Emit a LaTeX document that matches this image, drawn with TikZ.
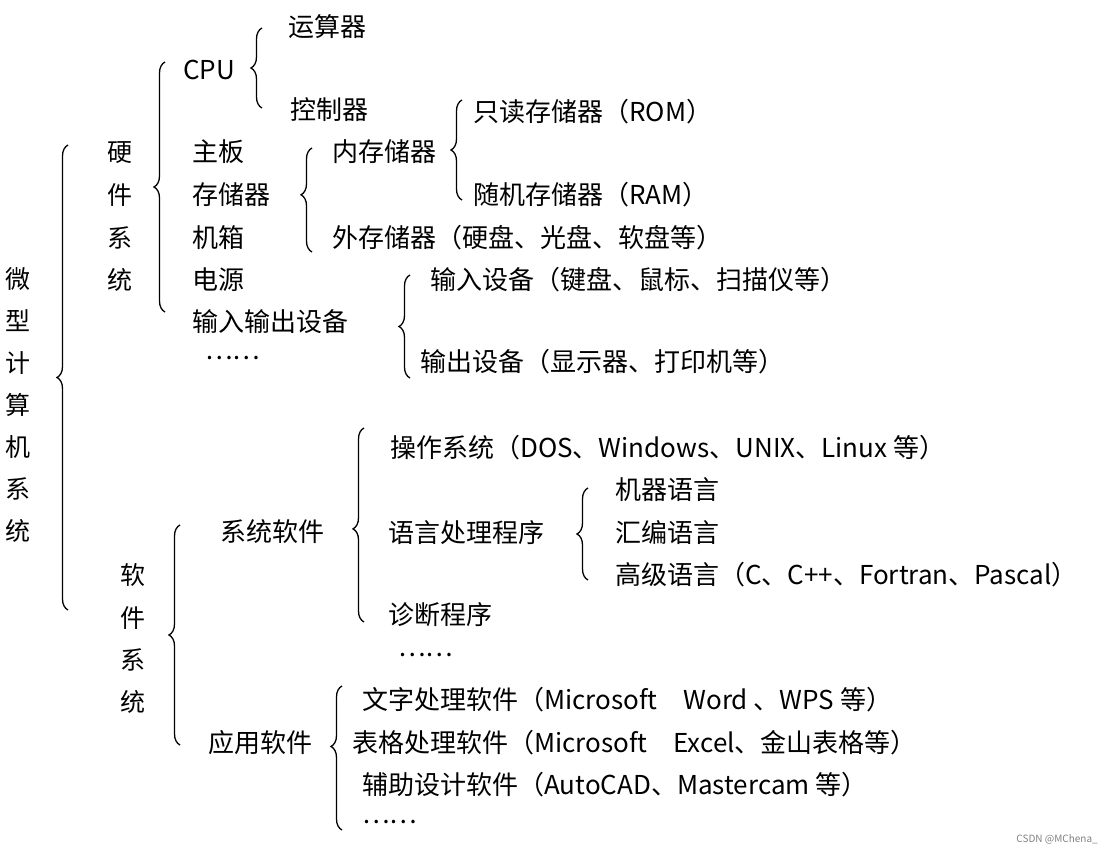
\documentclass[tikz,border=0pt]{standalone}
\usepackage{fontspec}
\setmainfont{Noto Sans CJK SC}
\usetikzlibrary{decorations.pathreplacing}
\begin{document}
\begin{tikzpicture}[x=1pt,y=-1pt,
  lbl/.style={anchor=west,inner sep=0pt,font=\fontsize{26}{28}\selectfont},
  vlbl/.style={inner sep=0pt,font=\fontsize{25}{27}\selectfont},
  br/.style={draw,line width=1.3pt,decorate,decoration={brace,amplitude=11pt,aspect=#1}},
  br/.default=0.5]
\useasboundingbox (0,0) rectangle (1104,850);
% vertical labels
\foreach \c [count=\i] in {微,型,计,算,机,系,统} \node[vlbl] (m\i) at (18,{237+\i*42}) {\c};
\foreach \c [count=\i] in {硬,件,系,统} \node[vlbl] (h\i) at (120,{110+\i*42.5}) {\c};
\foreach \c [count=\i] in {软,件,系,统} \node[vlbl] (s\i) at (133,{533+\i*42.3}) {\c};
% hardware
\node[lbl] (ysq) at (288,27) {运算器};
\node[lbl] (cpu) at (183,70) {CPU};
\node[lbl] (kzq) at (290,110) {控制器};
\node[lbl] (zb) at (192,152) {主板};
\node[lbl] (ccq) at (192,195) {存储器};
\node[lbl] (jx) at (192,238) {机箱};
\node[lbl] (dy) at (192,280) {电源};
\node[lbl] (io) at (192,322) {输入输出设备};
\node[lbl] (hd) at (205,358) {……};
\node[lbl] (rom) at (473,112) {只读存储器（ROM）};
\node[lbl] (ncq) at (332,152) {内存储器};
\node[lbl] (ram) at (473,195) {随机存储器（RAM）};
\node[lbl] (wcq) at (332,238) {外存储器（硬盘、光盘、软盘等）};
\node[lbl] (in) at (430,280) {输入设备（键盘、鼠标、扫描仪等）};
\node[lbl] (out) at (420,362) {输出设备（显示器、打印机等）};
% software
\node[lbl] (xtrj) at (220,532) {系统软件};
\node[lbl] (os) at (390,448) {操作系统（DOS、Windows、UNIX、Linux 等）};
\node[lbl] (yy) at (388,533) {语言处理程序};
\node[lbl] (zd) at (388,615) {诊断程序};
\node[lbl] (sd) at (398,655) {……};
\node[lbl] (jq) at (615,490) {机器语言};
\node[lbl] (hb) at (615,533) {汇编语言};
\node[lbl] (gj) at (615,575) {高级语言（C、C++、Fortran、Pascal）};
\node[lbl] (yyrj) at (208,743) {应用软件};
\node[lbl] (wz) at (362,700) {文字处理软件（Microsoft\quad Word 、WPS 等）};
\node[lbl] (bg) at (352,743) {表格处理软件（Microsoft\quad Excel、金山表格等）};
\node[lbl] (fz) at (362,785) {辅助设计软件（AutoCAD、Mastercam 等）};
\node[lbl] (ad) at (362,822) {……};
\node[anchor=south east,inner sep=2pt,text=gray,font=\fontsize{10}{12}\selectfont] (wm) at (1100,846) {CSDN @MChena\_};
% braces
\coordinate (b1a) at (68,610); \coordinate (b1b) at (68,145);
\draw[br] (b1a) -- (b1b);
\coordinate (b2a) at (165,312); \coordinate (b2b) at (165,62);
\draw[br] (b2a) -- (b2b);
\coordinate (b3a) at (262,108); \coordinate (b3b) at (262,28);
\draw[br] (b3a) -- (b3b);
\coordinate (b4a) at (312,252); \coordinate (b4b) at (312,148);
\draw[br=0.55] (b4a) -- (b4b);
\coordinate (b5a) at (462,200); \coordinate (b5b) at (462,100);
\draw[br] (b5a) -- (b5b);
\coordinate (b6a) at (410,378); \coordinate (b6b) at (410,275);
\draw[br] (b6a) -- (b6b);
\coordinate (b7a) at (180,745); \coordinate (b7b) at (180,525);
\draw[br] (b7a) -- (b7b);
\coordinate (b8a) at (364,622); \coordinate (b8b) at (364,428);
\draw[br=0.48] (b8a) -- (b8b);
\coordinate (b9a) at (588,580); \coordinate (b9b) at (588,488);
\draw[br] (b9a) -- (b9b);
\coordinate (b10a) at (342,830); \coordinate (b10b) at (342,686);
\draw[br=0.58] (b10a) -- (b10b);
\end{tikzpicture}
\end{document}
